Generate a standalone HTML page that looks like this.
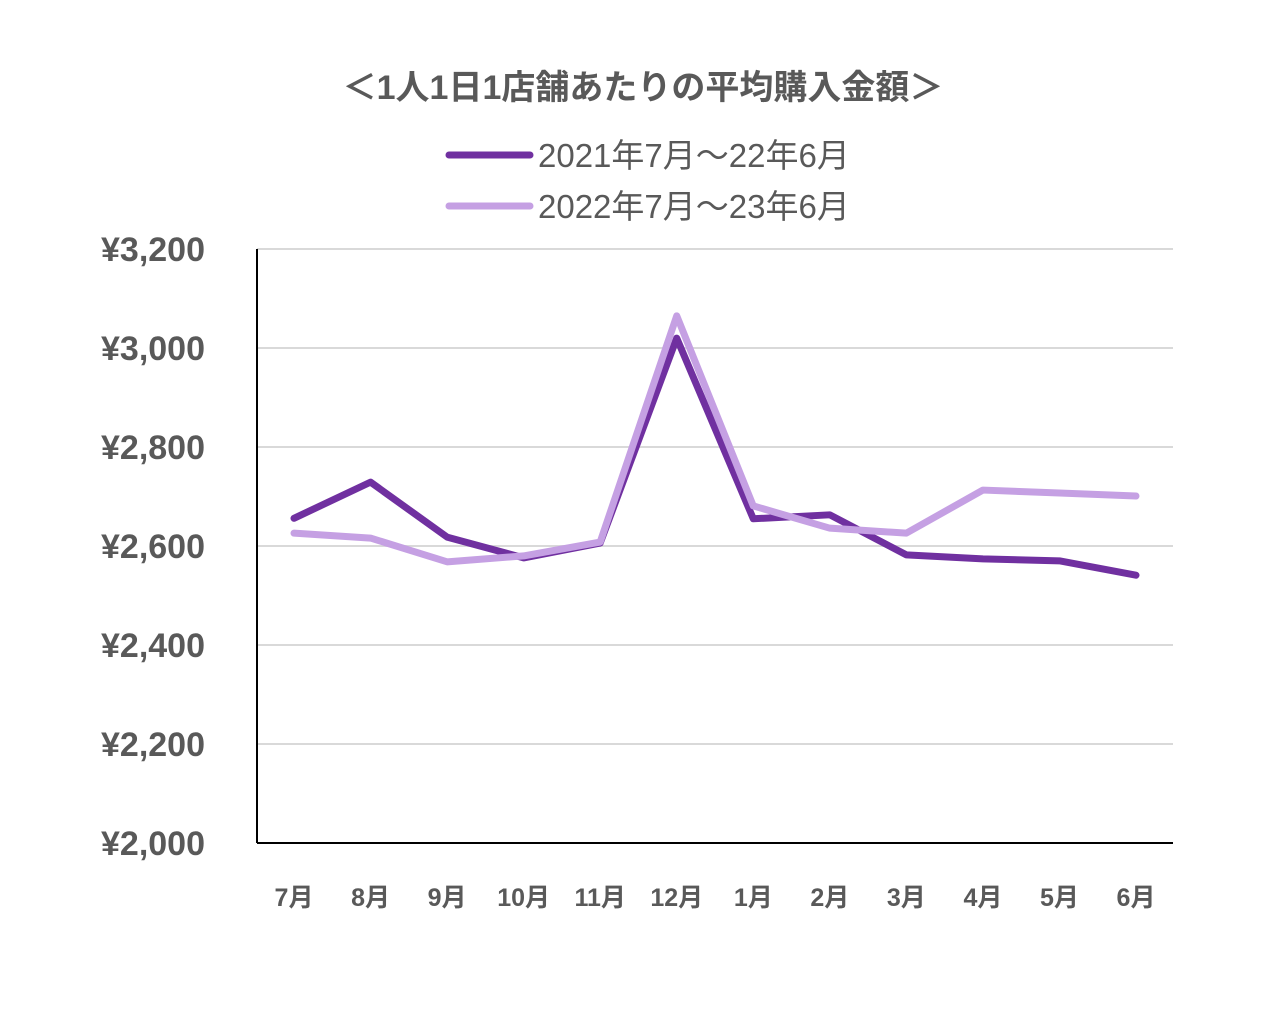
<!DOCTYPE html>
<html><head><meta charset="utf-8"><style>
body{margin:0;background:#fff;width:1280px;height:1005px;overflow:hidden}
text{font-family:"Liberation Sans","Noto Sans CJK JP",sans-serif}
</style></head><body>
<svg id="chart" width="1280" height="1005">
<text x="643" y="99" text-anchor="middle" font-size="34" font-weight="bold" fill="#595959">＜1人1日1店舗あたりの平均購入金額＞</text>
<g>
<line x1="449" y1="155" x2="530" y2="155" stroke="#7030a0" stroke-width="7" stroke-linecap="round"/>
<text x="538" y="167" font-size="33" fill="#595959">2021年7月～22年6月</text>
<line x1="449" y1="206" x2="530" y2="206" stroke="#c5a0e3" stroke-width="7" stroke-linecap="round"/>
<text x="538" y="218" font-size="33" fill="#595959">2022年7月～23年6月</text>
</g>
<g id="grid"></g><g id="axes"></g><g id="series"></g>
</svg>
<script>
const categories=["7月","8月","9月","10月","11月","12月","1月","2月","3月","4月","5月","6月"];
const series2021=[2656,2729,2618,2576,2606,3020,2655,2663,2582,2574,2570,2541];
const series2022=[2626,2616,2568,2580,2608,3065,2681,2636,2626,2713,2707,2701];
const yTicks=[2000,2200,2400,2600,2800,3000,3200];
const yTickLabels=["¥2,000","¥2,200","¥2,400","¥2,600","¥2,800","¥3,000","¥3,200"];
const NS="http://www.w3.org/2000/svg";
const plotLeft=257,plotRight=1173,plotTop=249,plotBottom=843,yMin=2000,yMax=3200;
const xFirst=294,xLast=1136;
function xs(i){return xFirst+(xLast-xFirst)*i/(categories.length-1);}
function ys(v){return plotBottom-(v-yMin)/(yMax-yMin)*(plotBottom-plotTop);}
function mk(tag,attrs,parent){const e=document.createElementNS(NS,tag);for(const k in attrs)e.setAttribute(k,attrs[k]);parent.appendChild(e);return e;}
const grid=document.getElementById('grid'),axes=document.getElementById('axes'),ser=document.getElementById('series');
yTicks.forEach((t,i)=>{
 if(t>yMin){const l=mk('line',{x1:plotLeft,x2:plotRight,y1:ys(t),y2:ys(t),stroke:'#d9d9d9','stroke-width':2},grid);
 
 }
 const tx=mk('text',{x:205,y:ys(t)+12,'text-anchor':'end','font-size':34,'font-weight':'bold',fill:'#595959'},axes);
 tx.textContent=yTickLabels[i];
 
 
});
const ya=mk('line',{x1:plotLeft,x2:plotLeft,y1:plotTop,y2:plotBottom,stroke:'#000','stroke-width':2},axes);


const xa=mk('line',{x1:plotLeft,x2:plotRight,y1:plotBottom,y2:plotBottom,stroke:'#000','stroke-width':2},axes);


categories.forEach((c,i)=>{
 const tx=mk('text',{x:xs(i),y:906,'text-anchor':'middle','font-size':25,'font-weight':'bold',fill:'#595959'},axes);
 tx.textContent=c;
 
 
});
function drawLine(data,color,name){
 const p=mk('polyline',{points:data.map((v,i)=>xs(i)+','+ys(v)).join(' '),fill:'none',stroke:color,'stroke-width':7,'stroke-linejoin':'round','stroke-linecap':'round'},ser);
 
 
}
drawLine(series2021,'#7030a0','series-2021-line');
drawLine(series2022,'#c5a0e3','series-2022-line');
</script>
</body></html>
